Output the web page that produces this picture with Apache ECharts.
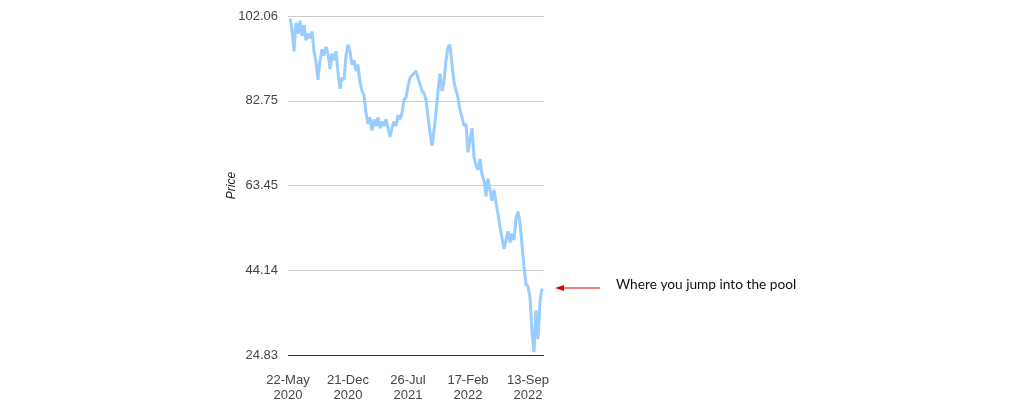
<!DOCTYPE html>
<html>
<head>
<meta charset="utf-8">
<script src="https://cdn.jsdelivr.net/npm/echarts@6/dist/echarts.min.js"></script>
<style>html,body{margin:0;padding:0;background:#fff}#c{width:1013px;height:413px}</style>
</head>
<body>
<div id="c"></div>
<script>
// Weekly samples (every 5 trading days), index 1..127
const prices = [
101.5,99,94,100.5,98,101,97.5,100,96.5,98,97,98.5,94,91.5,87.5,92,94.5,93,95,93.5,
90,93.5,92,94,89,85.5,88,87.5,93,95.5,94,91,92,89.5,91,87,85,84,80,77.5,
79,76,78.5,77,79,76.5,78,77,78.5,76.5,74.5,76.5,78,77,79.5,78.5,80,83,83.5,86,
88,88.5,89,89.5,88,86.5,85,84.5,83,79,75.5,72.5,76,80,85,89,85,87,92,95,
95.5,91,87,85,83.5,80.5,79,77,77.5,71,74,76.5,70,68,67,69.5,66,64.5,61,65,
62.5,60,62.5,59.5,57,54,51.5,49,51,53,50.5,52.5,51,56,57.5,55,50,45,41,40.5,
38,30,25.5,35,28.5,37,40
];
const xTickLabels = ['22-May\n2020','21-Dec\n2020','26-Jul\n2021','17-Feb\n2022','13-Sep\n2022'];
const yTickLabels = ['24.83','44.14','63.45','82.75','102.06'];
const yMin = 24.83, yMax = 102.06;
const annotation = 'Where you jump into the pool';

const chart = echarts.init(document.getElementById('c'), null, {renderer:'canvas'});
const data = prices.map((v,i)=>[i+1, v]);
chart.setOption({
  animation:false,
  grid:{left:288, right:469, top:16, bottom:58, containLabel:false},
  xAxis:{
    type:'value', min:0, max:128, interval:30,
    axisLine:{show:false}, axisTick:{show:false}, splitLine:{show:false},
    axisLabel:{
      showMaxLabel:false, margin:18, color:'#444', fontSize:13, lineHeight:15,
      fontFamily:'Liberation Sans, Arial',
      formatter:(v)=>xTickLabels[Math.round(v/30)] || ''
    }
  },
  yAxis:{
    type:'value', min:yMin, max:yMax, interval:(yMax-yMin)/4,
    name:'Price', nameLocation:'middle', nameGap:50, nameMoveOverlap:false,
    nameTextStyle:{fontStyle:'italic', color:'#222', fontSize:12, fontFamily:'Liberation Sans, Arial'},
    axisLine:{show:false}, axisTick:{show:false},
    splitLine:{lineStyle:{color:'#cccccc', width:1}},
    axisLabel:{
      color:'#444', fontSize:13, margin:10, fontFamily:'Liberation Sans, Arial',
      formatter:(v,idx)=>yTickLabels[idx]
    }
  },
  series:[{
    type:'line', data:data, showSymbol:false, smooth:false,
    lineStyle:{color:'#99ccff', width:3},
    markLine:{silent:true, symbol:'none', label:{show:false},
      lineStyle:{color:'#333', width:1, type:'solid'},
      data:[{yAxis:yMin}]}
  }],
  graphic:[
    {type:'line', shape:{x1:562, y1:288, x2:600, y2:288}, style:{stroke:'#e00000', lineWidth:1}},
    {type:'polygon', shape:{points:[[555,288],[564,285],[564,291]]}, style:{fill:'#e00000'}},
    {type:'text', left:616, top:278, style:{text:annotation, fill:'#111', font:'13.7px Lato, "Open Sans", sans-serif'}}
  ]
});
</script>
</body>
</html>
